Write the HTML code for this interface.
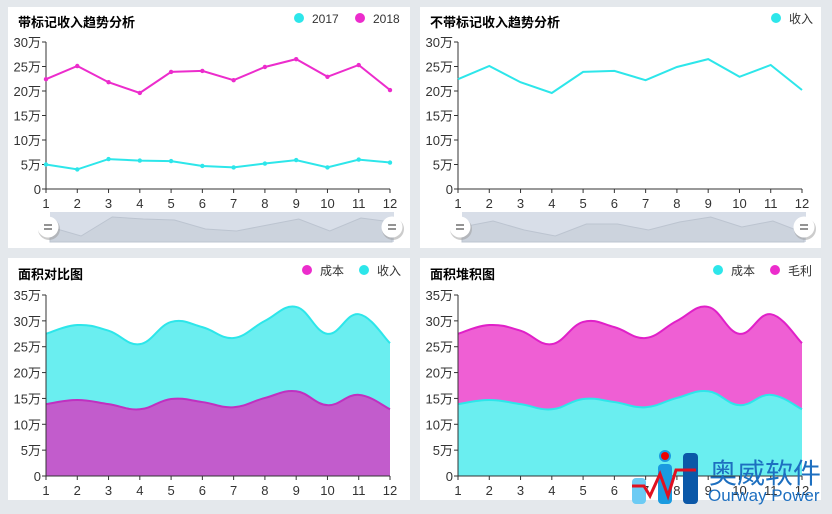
<!DOCTYPE html>
<html><head><meta charset="utf-8"><style>
body{margin:0;width:832px;height:514px;background:#e4e8ec;overflow:hidden;font-family:"Liberation Sans","Noto Sans CJK SC",sans-serif;}
svg{position:absolute;left:0;top:0}
</style></head><body>
<svg id="s" width="832" height="514" xmlns="http://www.w3.org/2000/svg" font-family="Liberation Sans, Noto Sans CJK SC, sans-serif"></svg>
<script>
const s=document.getElementById('s');let h='';
const C='#2de6ea',M='#ec2ccc';
const a17=[5.0,4.0,6.1,5.8,5.7,4.7,4.4,5.2,5.9,4.4,6.0,5.4];
const a18=[22.4,25.1,21.8,19.6,23.9,24.1,22.2,24.9,26.5,22.9,25.3,20.2];
const tot=[27.5,29.2,28.1,25.5,29.8,28.8,26.7,30,32.7,27.5,31.3,25.7];
const low=[13.9,14.7,13.9,12.9,14.9,14.3,13.3,15.1,16.4,13.7,15.7,12.9];
h+='<rect x="8" y="7" width="402" height="241" fill="#fff"/><rect x="420" y="7" width="401" height="241" fill="#fff"/>';
h+='<rect x="8" y="258" width="402" height="242" fill="#fff"/><rect x="420" y="258" width="401" height="242" fill="#fff"/>';
function pts(d,x0,x1,y0,sc){return d.map((v,i)=>[x0+i*(x1-x0)/11,y0-v*sc]);}
function lin(p){return 'M'+p.map(q=>q[0].toFixed(1)+','+q[1].toFixed(1)).join('L');}
function smooth(p){let d='M'+p[0][0]+','+p[0][1];for(let i=0;i<p.length-1;i++){const p0=p[i-1]||p[i],p1=p[i],p2=p[i+1],p3=p[i+2]||p2;const t=0.2;d+=`C${p1[0]+(p2[0]-p0[0])*t},${p1[1]+(p2[1]-p0[1])*t} ${p2[0]-(p3[0]-p1[0])*t},${p2[1]-(p3[1]-p1[1])*t} ${p2[0]},${p2[1]}`;}return d;}
function axes(x0,x1,y0,ytop,n,step){let r=`<line x1="${x0}" y1="${ytop}" x2="${x0}" y2="${y0}" stroke="#333"/><line x1="${x0}" y1="${y0}" x2="${x1}" y2="${y0}" stroke="#333"/>`;
 for(let k=0;k<=n;k++){const y=y0-(y0-ytop)*k/n;r+=`<line x1="${x0-4}" y1="${y}" x2="${x0}" y2="${y}" stroke="#333"/><text x="${x0-5}" y="${y+5}" font-size="13" text-anchor="end" fill="#333">${k==0?'0':(k*step)+'万'}</text>`;}
 for(let i=0;i<12;i++){const x=x0+i*(x1-x0)/11;r+=`<line x1="${x}" y1="${y0}" x2="${x}" y2="${y0+4}" stroke="#333"/><text x="${x}" y="${y0+19}" font-size="13" text-anchor="middle" fill="#333">${i+1}</text>`;}return r;}
function title(x,y,t){return `<text x="${x}" y="${y}" font-size="13" font-weight="bold" fill="#000">${t}</text>`;}
function leg(x,y,c,t){return `<circle cx="${x}" cy="${y}" r="5" fill="${c}"/><text x="${x+13}" y="${y+5}" font-size="12" fill="#333">${t}</text>`;}
function slider(x0,x1,ys){let p=ys.map((y,i)=>[x0+2+i*(x1-x0-2)/11,y]);let r=`<rect x="${x0+2}" y="212" width="${x1-x0}" height="30" fill="#d8dee8"/><path d="${lin(p)}L${x1},242L${x0+2},242Z" fill="#ccd3dd" stroke="#bcc4d0"/>`;
 [x0,x1].forEach(x=>{r+=`<circle cx="${x+1}" cy="229" r="11" fill="#999" opacity=".5"/><circle cx="${x}" cy="227" r="10.5" fill="#fff"/><path d="M${x-4},225h8M${x-4},229h8" stroke="#555" stroke-width="1.3"/>`});return r;}
// top-left
h+=title(18,27,'带标记收入趋势分析')+leg(299,18,C,'2017')+leg(360,18,M,'2018');
h+=axes(46,390,189,42,6,5);
h+=slider(48,392,[227,236,217,219,220,229,231,225,219,231,218,222]);
[[a17,C],[a18,M]].forEach(([d,c])=>{const p=pts(d,46,390,189,4.9);h+=`<path d="${lin(p)}" fill="none" stroke="${c}" stroke-width="2"/>`;p.forEach(q=>h+=`<circle cx="${q[0]}" cy="${q[1]}" r="2.2" fill="${c}"/>`);});
// top-right
h+=title(430,27,'不带标记收入趋势分析')+leg(776,18,C,'收入');
h+=axes(458,802,189,42,6,5);
h+=slider(460,804,[227,221,230,236,224,224,230,222,217,227,221,233]);
h+=`<path d="${lin(pts(a18,458,802,189,4.9))}" fill="none" stroke="${C}" stroke-width="2"/>`;
// bottom-left
h+=title(18,279,'面积对比图')+leg(307,270,M,'成本')+leg(364,270,C,'收入');
{const pt=pts(tot,46,390,476,5.17),pl=pts(low,46,390,476,5.17);
h+=`<path d="${smooth(pt)}L390,476L46,476Z" fill="#6aeef0"/><path d="${smooth(pt)}" fill="none" stroke="${C}" stroke-width="2"/>`;
h+=`<path d="${smooth(pl)}L390,476L46,476Z" fill="#c25ccc"/><path d="${smooth(pl)}" fill="none" stroke="#c030c0" stroke-width="2"/>`;}
h+=axes(46,390,476,295,7,5);
// bottom-right
h+=title(430,279,'面积堆积图')+leg(718,270,C,'成本')+leg(775,270,M,'毛利');
{const pt=pts(tot,458,802,476,5.17),pl=pts(low,458,802,476,5.17);
h+=`<path d="${smooth(pt)}L802,476L458,476Z" fill="#ef5fd4"/><path d="${smooth(pt)}" fill="none" stroke="#e020c8" stroke-width="2"/>`;
h+=`<path d="${smooth(pl)}L802,476L458,476Z" fill="#6aeef0"/><path d="${smooth(pl)}" fill="none" stroke="${C}" stroke-width="2"/>`;}
h+=axes(458,802,476,295,7,5);
// watermark logo
h+=`<rect x="632" y="478" width="14" height="26" rx="4" fill="#6ccbf4"/><rect x="658" y="464" width="14" height="40" rx="4" fill="#1a9be0"/><circle cx="665" cy="456" r="6" fill="#1a9be0"/><circle cx="665" cy="456" r="4" fill="#e00"/><rect x="683" y="453" width="15" height="51" rx="4" fill="#0b58a8"/>`;
h+=`<path d="M632,486h12l6,10l10,-22l8,22l8,-26h20" fill="none" stroke="#e01020" stroke-width="3"/>`;
h+=`<text x="709" y="483" font-size="28" fill="#1d6fc0">奥威软件</text><text x="708" y="501" font-size="17" fill="#1d6fc0">Ourway Power</text>`;
s.innerHTML=h;
</script>
</body></html>
